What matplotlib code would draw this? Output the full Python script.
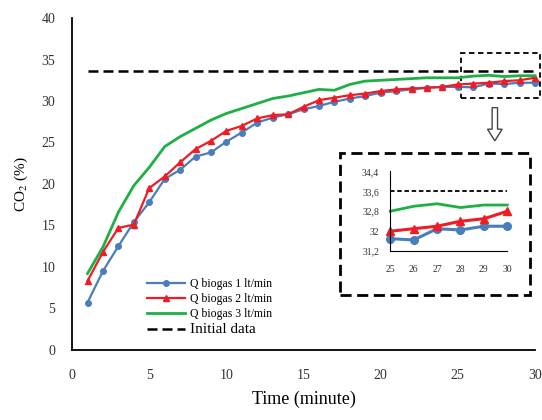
import numpy as np
import matplotlib
matplotlib.use('Agg')
import matplotlib.pyplot as plt
from matplotlib.patches import Rectangle, FancyArrow
from matplotlib.ticker import FuncFormatter

plt.rcParams['font.family'] = 'Liberation Serif'
plt.rcParams['mathtext.fontset'] = 'stix'

time = np.arange(1, 31)
q1 = [5.7, 9.5, 12.5, 15.4, 17.8, 20.6, 21.7, 23.3, 23.8, 25.1,
      26.2, 27.4, 28.0, 28.4, 29.0, 29.4, 29.9, 30.3, 30.6, 31.0,
      31.2, 31.4, 31.6, 31.7, 31.7, 31.65, 32.1, 32.05, 32.2, 32.2]
q2 = [8.3, 11.8, 14.7, 15.1, 19.5, 20.9, 22.6, 24.2, 25.2, 26.4,
      27.0, 27.9, 28.3, 28.4, 29.3, 30.1, 30.4, 30.7, 30.9, 31.2,
      31.4, 31.5, 31.6, 31.7, 32.0, 32.1, 32.2, 32.4, 32.5, 32.8]
q3 = [9.2, 12.4, 16.6, 19.8, 22.0, 24.5, 25.7, 26.7, 27.7, 28.5,
      29.1, 29.7, 30.3, 30.6, 31.0, 31.4, 31.3, 32.0, 32.4, 32.5,
      32.6, 32.7, 32.8, 32.8, 32.8, 33.0, 33.1, 32.95, 33.05, 33.05]
initial = 33.6
labels = ['Q biogas 1 lt/min', 'Q biogas 2 lt/min', 'Q biogas 3 lt/min', 'Initial data']
zoom_from = 25

c_blue = '#4A7EBB'
c_red = '#EE1C25'
c_green = '#1DB045'

fig = plt.figure(figsize=(5.42, 4.2), dpi=100)
ax = fig.add_axes([0.133, 0.167, 0.854, 0.79])

ax.plot(time, q1, color=c_blue, lw=1.6, marker='o', ms=4, label=labels[0])
ax.plot(time, q2, color=c_red, lw=1.6, marker='^', ms=4, label=labels[1])
ax.plot(time, q3, color=c_green, lw=2, label=labels[2])
ax.plot([time[0], time[-1]], [initial, initial], color='black', lw=1.8,
        dashes=(4, 2), label=labels[3])

ax.set_xlim(0, 30)
ax.set_ylim(0, 40)
ax.set_xticks(range(0, 31, 5))
ax.set_yticks(range(0, 41, 5))
ax.spines['top'].set_visible(False)
ax.spines['right'].set_visible(False)
for s in ['left', 'bottom']:
    ax.spines[s].set_linewidth(1.3)
ax.tick_params(axis='both', length=0, labelsize=10, colors='#333333')
ax.tick_params(axis='x', pad=14)
ax.tick_params(axis='y', pad=12)
ax.set_xlabel('Time (minute)', fontsize=13, labelpad=6)
ax.set_ylabel('CO$_2$ (%)', fontsize=11, labelpad=8)
for line in ax.lines:
    line.set_clip_on(False)

leg = ax.legend(loc='upper left', bbox_to_anchor=(0.15, 0.235), frameon=False,
                fontsize=8.5, handlelength=3.2, handletextpad=0.4,
                labelspacing=0.25, borderpad=0)
leg.get_texts()[3].set_fontsize(11)

# zoom box on main plot
ax.add_patch(Rectangle((25.2, 30.4), 5.1, 5.4, fill=False, ls=(0, (3, 2)),
                       lw=1.3, color='black', clip_on=False))
ax.add_patch(FancyArrow(27.4, 29.2, 0, -2.6, width=0.35, head_width=0.95,
                        head_length=1.4, length_includes_head=False,
                        facecolor='white', edgecolor='#444444', lw=1))

# inset frame
fig.patches.append(Rectangle((0.627, 0.298), 0.351, 0.338, fill=False,
                             ls=(0, (4, 2)), lw=2, color='black',
                             transform=fig.transFigure, figure=fig))

k = list(time).index(zoom_from)
ins = fig.add_axes([0.72, 0.402, 0.216, 0.19])
ins.plot(time[k:], q1[k:], color=c_blue, lw=2.2, marker='o', ms=5.5)
ins.plot(time[k:], q2[k:], color=c_red, lw=2.2, marker='^', ms=5.5)
ins.plot(time[k:], q3[k:], color=c_green, lw=2)
ins.plot([zoom_from, time[-1]], [initial, initial], color='black', lw=1.3,
         dashes=(2.5, 1.5))
ins.set_xlim(25, 30)
ins.set_ylim(31.2, 34.4)
ins.set_xticks(range(25, 31))
ins.set_yticks([31.2, 32.0, 32.8, 33.6, 34.4])
ins.yaxis.set_major_formatter(FuncFormatter(lambda v, p: ('%g' % round(v, 1)).replace('.', ',')))
ins.spines['top'].set_visible(False)
ins.spines['right'].set_visible(False)
ins.tick_params(axis='both', length=0, labelsize=7, colors='#333333')
ins.tick_params(axis='x', pad=10)
ins.tick_params(axis='y', pad=8)
ins.patch.set_alpha(0)
for line in ins.lines:
    line.set_clip_on(False)

fig.savefig('out.png', dpi=100)
